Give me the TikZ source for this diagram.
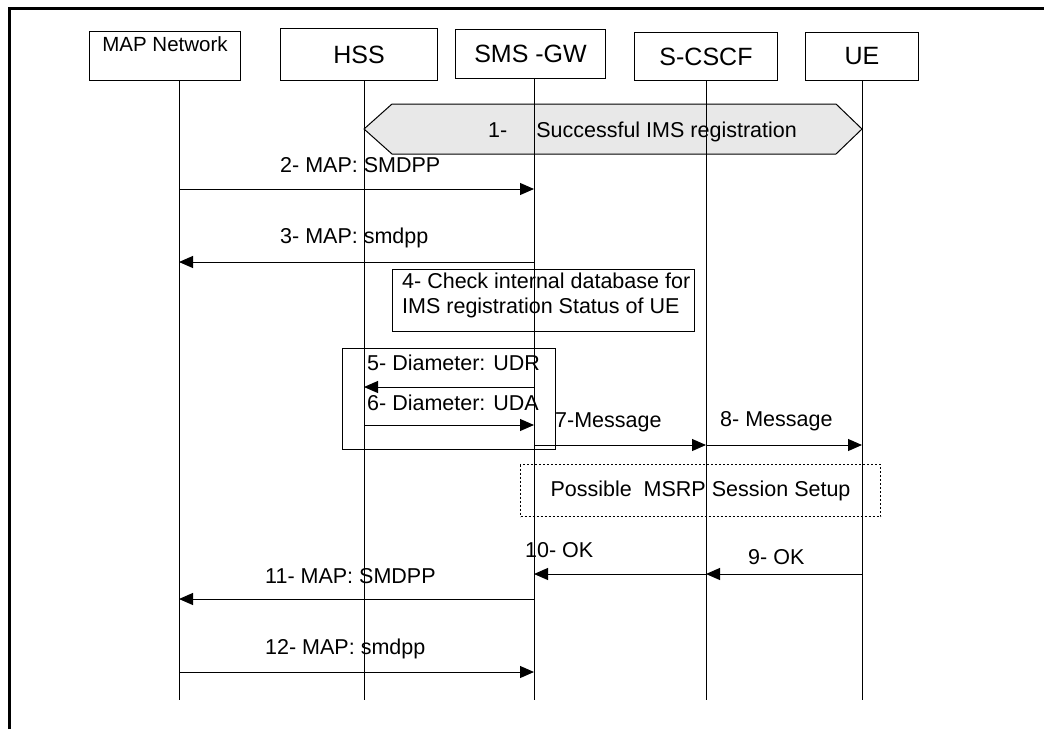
\documentclass[tikz,border=0pt]{standalone}
\usepackage{fontspec}
\setmainfont{Liberation Sans}
\usetikzlibrary{arrows.meta}
\newcommand{\msgfont}{\fontsize{21.5}{25}\selectfont}

\begin{document}
\begin{tikzpicture}[x=1pt, y=-1pt,
	every node/.style={inner sep=0pt},
	hdr/.style={draw, line width=1pt, anchor=north west, font=\fontsize{25}{29}\selectfont},
	frame/.style={draw, line width=1pt, anchor=north west},
	life/.style={line width=1pt},
	msg/.style={line width=1pt, -{Triangle[length=14pt,width=12pt]}},
	lbl/.style={anchor=base west, font=\msgfont}]
		\useasboundingbox (0,0) rectangle (1044,729);
		\draw[line width=3pt] (9.5,729) -- (9.5,8.5) -- (1044,8.5);

		\node[hdr, minimum width=151pt, minimum height=49pt,
			label={[anchor=north, yshift=-5pt, font=\fontsize{20.5}{24}\selectfont]north:MAP Network}] (mapnet) at (89,31) {};
		\node[hdr, minimum width=157pt, minimum height=52pt] (hss) at (280,28) {HSS};
		\node[hdr, minimum width=150pt, minimum height=49pt] (smsgw) at (455,29) {SMS -GW};
		\node[hdr, minimum width=143pt, minimum height=48pt] (scscf) at (634,32) {S-CSCF};
		\node[hdr, minimum width=113pt, minimum height=48pt] (ue) at (805,32) {UE};

		\coordinate (mapnet-end) at (179,700);
		\coordinate (hss-end) at (364,700);
		\coordinate (smsgw-end) at (534,700);
		\coordinate (scscf-end) at (706,700);
		\coordinate (ue-end) at (862,700);

		\draw[line width=1pt, fill=gray!18] (hss-end |- 0,129) -- (392,104) -- (836,104)
			-- (ue-end |- 0,129) -- (836,154) -- (392,154) -- cycle;
		\node[lbl] (reg) at (488,137) {1-\hspace{29pt}Successful IMS registration};

		\draw[life] (mapnet.south -| mapnet-end) -- (mapnet-end);
		\draw[life] (hss.south -| hss-end) -- (hss-end);
		\draw[life] (smsgw.south -| smsgw-end) -- (smsgw-end);
		\draw[life] (scscf.south -| scscf-end) -- (scscf-end);
		\draw[life] (ue.south -| ue-end) -- (ue-end);

		\node[lbl] (l2) at (280,172) {2- MAP: SMDPP};
		\draw[msg] (mapnet-end |- 0,189) -- (smsgw-end |- 0,189);
		\node[lbl] (l3) at (280,243) {3- MAP: smdpp};
		\draw[msg] (smsgw-end |- 0,262) -- (mapnet-end |- 0,262);

		\node[frame, minimum width=302pt, minimum height=62pt] (chk) at (392,269) {};
		\node[lbl, anchor=north west, align=left] (chktxt) at (402,272.5) {4- Check internal database for\\IMS registration Status of UE};

		\node[frame, minimum width=213pt, minimum height=101pt] (udr) at (342,348) {};
		\node[lbl] (l5) at (367,370) {5- Diameter: UDR};
		\draw[msg] (smsgw-end |- 0,387) -- (hss-end |- 0,387);
		\node[lbl] (l6) at (367,410) {6- Diameter: UDA};
		\draw[msg] (hss-end |- 0,425) -- (smsgw-end |- 0,425);

		\node[lbl] (l7) at (555,427) {7-Message};
		\draw[msg] (smsgw-end |- 0,445) -- (scscf-end |- 0,445);
		\node[lbl] (l8) at (720,426) {8- Message};
		\draw[msg] (scscf-end |- 0,445) -- (ue-end |- 0,445);

		\node[frame, dash pattern=on 2pt off 2pt, minimum width=360pt, minimum height=52pt, font=\msgfont] (msrp) at (520,464) {Possible\ \ MSRP Session Setup};

		\node[lbl] (l9) at (748,564) {9- OK};
		\draw[msg] (ue-end |- 0,574) -- (scscf-end |- 0,574);
		\node[lbl] (l10) at (525,557) {10- OK};
		\draw[msg] (scscf-end |- 0,574) -- (smsgw-end |- 0,574);
		\node[lbl] (l11) at (265,583) {11- MAP: SMDPP};
		\draw[msg] (smsgw-end |- 0,599) -- (mapnet-end |- 0,599);
		\node[lbl] (l12) at (265,654) {12- MAP: smdpp};
		\draw[msg] (mapnet-end |- 0,672) -- (smsgw-end |- 0,672);
	\end{tikzpicture}
\end{document}
